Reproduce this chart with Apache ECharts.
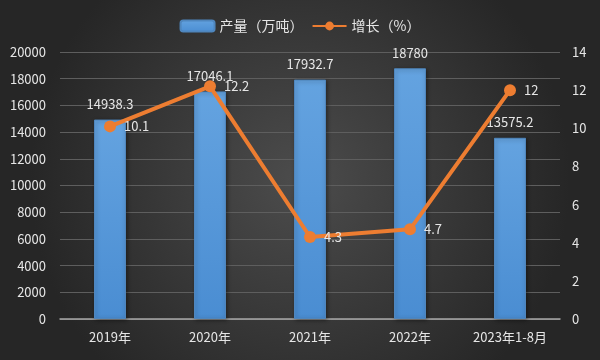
<!DOCTYPE html>
<html><head><meta charset="utf-8">
<script src="https://cdn.jsdelivr.net/npm/echarts@6/dist/echarts.min.js"></script>
<style>html,body{margin:0;padding:0;}#c{width:600px;height:360px;}</style>
</head><body><div id="c"></div>
<script>
const categories = ['2019年','2020年','2021年','2022年','2023年1-8月'];
const output = [14938.3, 17046.1, 17932.7, 18780, 13575.2];
const growth = [10.1, 12.2, 4.3, 4.7, 12];
const seriesNames = ['产量（万吨）','增长（%）'];

const font = '"Noto Sans CJK SC", "Noto Sans", sans-serif';
const txt = '#e6e6e6';
const chart = echarts.init(document.getElementById('c'));
chart.setOption({
  backgroundColor: {type:'radial', x:0.5, y:0.5, r:0.75, colorStops:[{offset:0,color:'#4c4c4c'},{offset:1,color:'#262626'}]},
  textStyle:{fontFamily:font},
  legend:{top:14, left:'center', itemGap:8, itemWidth:34, itemHeight:11,
    textStyle:{color:txt, fontSize:14, fontFamily:font},
    data:[{name:seriesNames[0]},{name:seriesNames[1]}]},
  grid:{left:60, right:40, top:52, bottom:41},
  xAxis:{type:'category', data:categories,
    axisLine:{lineStyle:{color:'#a8a8a8', width:1.5}}, axisTick:{show:false},
    axisLabel:{color:txt, fontSize:13, margin:12, fontFamily:font}},
  yAxis:[
    {type:'value', min:0, max:20000, interval:2000,
      axisLine:{show:false}, axisTick:{show:false},
      axisLabel:{color:txt, fontSize:13, margin:14, fontFamily:font, formatter:v=>String(v)},
      splitLine:{lineStyle:{color:'#5e5e5e', width:1}}},
    {type:'value', min:0, max:14, interval:2,
      axisLine:{show:false}, axisTick:{show:false},
      axisLabel:{color:txt, fontSize:13, margin:12, fontFamily:font, formatter:v=>String(v)},
      splitLine:{show:false}}
  ],
  series:[
    {name:seriesNames[0], type:'bar', data:output, barWidth:32,
      itemStyle:{color:{type:'linear',x:0,y:0,x2:0,y2:1,colorStops:[{offset:0,color:'#64a3e0'},{offset:1,color:'#4a8dd2'}]},
        borderColor:'#4f86bd', borderWidth:1,
        shadowColor:'rgba(0,0,0,0.4)', shadowBlur:4, shadowOffsetX:1, shadowOffsetY:1},
      label:{show:true, position:'top', distance:9, color:txt, fontSize:13, fontFamily:font}},
    {name:seriesNames[1], type:'line', yAxisIndex:1, data:growth,
      symbol:'circle', symbolSize:12,
      lineStyle:{color:'#ed7d31', width:4},
      itemStyle:{color:'#ed7d31'},
      label:{show:true, position:'right', distance:8, color:txt, fontSize:13, fontFamily:font}}
  ]
});
</script></body></html>
